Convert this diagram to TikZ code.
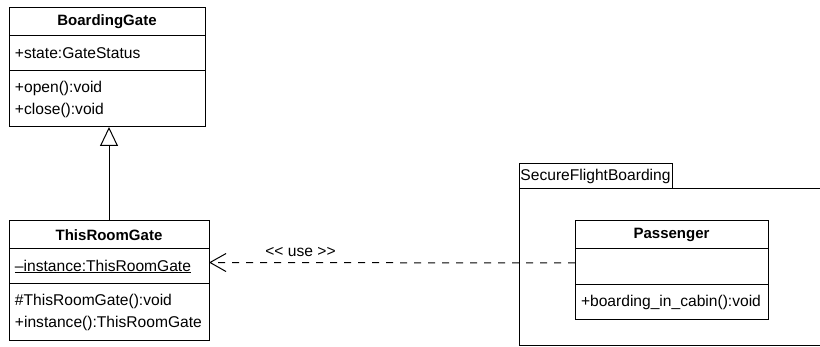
\documentclass[tikz,border=0pt]{standalone}
\usepackage{fontspec}
\setmainfont{Liberation Sans}
\usetikzlibrary{arrows.meta,positioning}

\begin{document}
\begin{tikzpicture}[x=1pt, y=-1pt,
        every node/.style={font=\fontsize{15.6}{22}\selectfont},
        head/.style={draw, line width=1pt, outer sep=0pt, inner sep=0pt,
                     font=\fontsize{15}{22}\selectfont\bfseries,
                     minimum height=28pt, anchor=north west},
        part/.style={draw, line width=1pt, outer sep=0pt, align=left,
                     inner xsep=6pt, inner ysep=0pt},
        pkg/.style={draw, line width=1pt, outer sep=0pt, inner sep=0pt},
        inherit/.style={-{Triangle[open, length=19pt, width=18pt]}, line width=1pt},
        use/.style={-{Straight Barb[length=16pt, width=18pt]}, line width=1pt,
                    dash pattern=on 7pt off 7pt}
      ]
        \useasboundingbox (0,0) rectangle (820,347);
        \node[head, minimum width=196pt] (bg) at (9,8) {BoardingGate};
        \node[part, text width=184pt, minimum height=35pt] (bgattr) [below=0pt of bg] {+state:GateStatus};
        \node[part, text width=184pt, minimum height=56pt] (bgmeth) [below=0pt of bgattr] {+open():void\\+close():void};
        \node[head, minimum width=200pt] (trg) at (9,221) {ThisRoomGate};
        \node[part, text width=188pt, minimum height=35pt] (trgattr) [below=0pt of trg] {\underline{–instance:ThisRoomGate}};
        \node[part, text width=188pt, minimum height=57pt] (trgmeth) [below=0pt of trgattr] {\#ThisRoomGate():void\\+instance():ThisRoomGate};
        \draw[inherit] (trg.north) -- (trg.north |- bgmeth.south);
        \node[pkg, anchor=south west, minimum width=153pt, minimum height=25pt] (pkgtab) at (519,189) {SecureFlightBoarding};
        \node[pkg, anchor=north west, minimum width=330pt, minimum height=157pt] (pkgbody) at (pkgtab.south west) {};
        \node[head, minimum width=193pt] (pas) at (575,221) {Passenger};
        \node[part, text width=181pt, minimum height=36pt] (pasattr) [below=0pt of pas] {};
        \node[part, text width=181pt, minimum height=35pt] (pasmeth) [below=0pt of pasattr] {+boarding\_in\_cabin():void};
        \draw[use] ([yshift=4pt]pasattr.west) -- node[pos=0.75, above=5pt, inner sep=0pt] (uselbl) {{<}{<} use {>}{>}} ([yshift=4pt]trgattr.east);
      \end{tikzpicture}
\end{document}
